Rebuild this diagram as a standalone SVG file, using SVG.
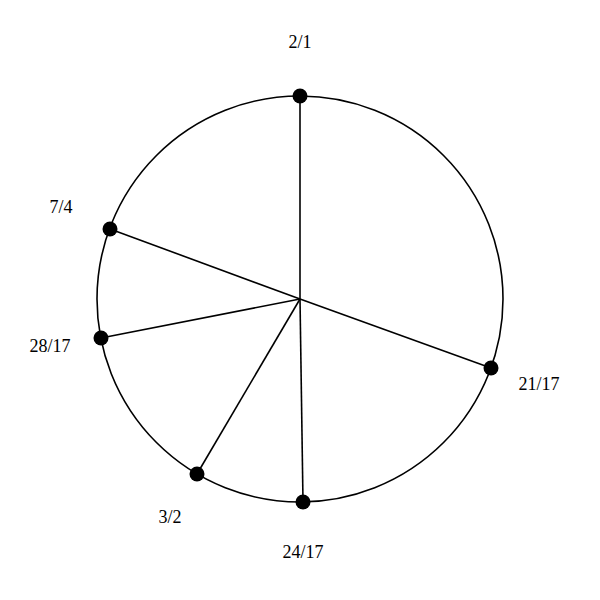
<svg xmlns="http://www.w3.org/2000/svg" width="600" height="600" viewBox="0 0 600 600">
<style>
.edge{stroke:#000;stroke-width:1.6;fill:none}
.dot{fill:#000}
.lbl{font-family:"Liberation Serif","Times New Roman",serif;font-size:18px;fill:#000;text-anchor:middle}
</style>
<rect width="600" height="600" fill="#fff"/>
<circle cx="300" cy="299" r="203" class="edge"/>
<g id="connectors">
<line class="edge" x1="300" y1="299" x2="300" y2="96"/>
<line class="edge" x1="300" y1="299" x2="110" y2="229"/>
<line class="edge" x1="300" y1="299" x2="101" y2="338"/>
<line class="edge" x1="300" y1="299" x2="197" y2="474"/>
<line class="edge" x1="300" y1="299" x2="303" y2="502"/>
<line class="edge" x1="300" y1="299" x2="491" y2="368"/>
</g>
<g id="n-2-1"><circle class="dot" cx="300" cy="96" r="7.5"/><text class="lbl" x="300" y="48">2/1</text></g>
<g id="n-7-4"><circle class="dot" cx="110" cy="229" r="7.5"/><text class="lbl" x="61" y="213">7/4</text></g>
<g id="n-28-17"><circle class="dot" cx="101" cy="338" r="7.5"/><text class="lbl" x="50" y="352">28/17</text></g>
<g id="n-3-2"><circle class="dot" cx="197" cy="474" r="7.5"/><text class="lbl" x="170" y="523">3/2</text></g>
<g id="n-24-17"><circle class="dot" cx="303" cy="502" r="7.5"/><text class="lbl" x="303" y="558">24/17</text></g>
<g id="n-21-17"><circle class="dot" cx="491" cy="368" r="7.5"/><text class="lbl" x="539" y="390">21/17</text></g>
</svg>
